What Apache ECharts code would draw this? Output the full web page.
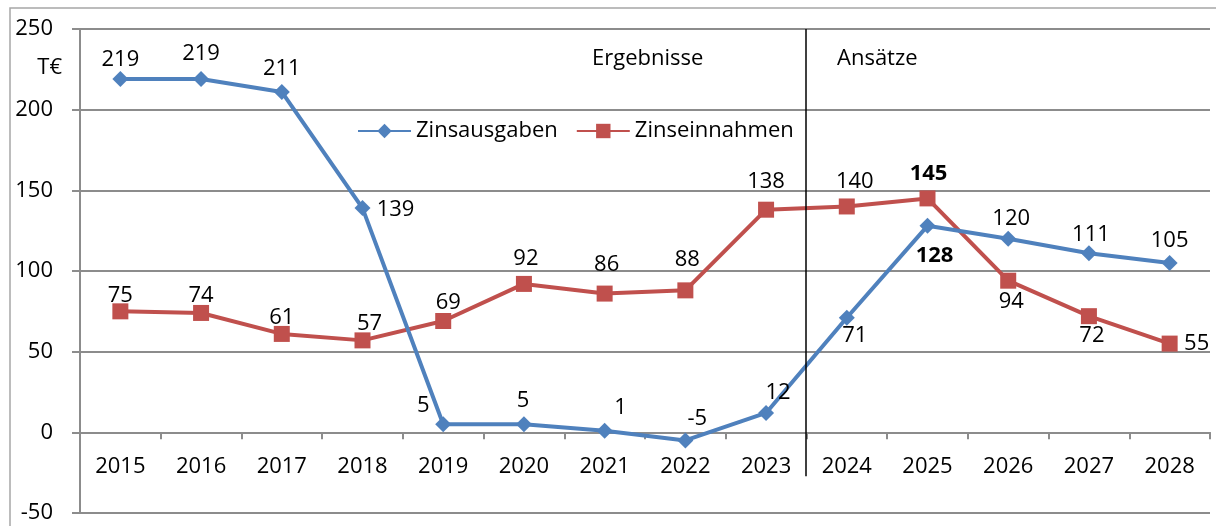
<!DOCTYPE html>
<html>
<head>
<meta charset="utf-8">
<script src="https://cdn.jsdelivr.net/npm/echarts@6/dist/echarts.min.js"></script>
<style>
html,body{margin:0;padding:0;background:#fff;}
#chart{width:1216px;height:526px;}
</style>
</head>
<body>
<div id="chart"></div>
<script>
// ---- data ----
const years = ['2015','2016','2017','2018','2019','2020','2021','2022','2023','2024','2025','2026','2027','2028'];
const zinsausgaben = [219,219,211,139,5,5,1,-5,12,71,128,120,111,105];
const zinseinnahmen = [75,74,61,57,69,92,86,88,138,140,145,94,72,55];
const yTicks = [-50,0,50,100,150,200,250];
const seriesNames = ['Zinsausgaben','Zinseinnahmen'];
const unitLabel = 'T€';
const periodLabels = ['Ergebnisse','Ansätze'];

// ---- label placement (offset of label centre from marker centre, px) ----
const blueLabelOffsets = [[0,-19],[0,-25],[0,-23],[33,2],[-20,-19],[-1,-24],[16,-23],[12,-22],[12,-20],[8,18],[7,30],[3,-20],[2,-19],[0,-22]];
const redLabelOffsets  = [[0,-16],[0,-17],[0,-16],[7,-17],[5,-18],[2,-25],[2,-29],[2,-31],[0,-28],[8,-25],[1,-25],[3,21],[3,20],[27,0]];
const blueBold = [false,false,false,false,false,false,false,false,false,false,true,false,false,false];
const redBold  = [false,false,false,false,false,false,false,false,false,false,true,false,false,false];

const FONT = '"Open Sans", Lato, sans-serif';
const BLUE = '#4F81BD';
const RED = '#C0504D';
const GRID = '#8c8c8c';

function buildData(values, offsets, bold) {
  return values.map((v, i) => ({
    value: v,
    label: {
      position: 'inside',
      offset: offsets[i],
      fontWeight: bold[i] ? 'bold' : 'normal'
    }
  }));
}

const chart = echarts.init(document.getElementById('chart'), null, {renderer: 'canvas'});

const labelBase = {
  show: true,
  color: '#000',
  fontFamily: FONT,
  fontSize: 22,
  align: 'center',
  verticalAlign: 'middle'
};

chart.setOption({
  animation: false,
  backgroundColor: '#fff',
  textStyle: {fontFamily: FONT},
  grid: {left: 80, right: 6, top: 29, bottom: 13, containLabel: false, outerBoundsMode: 'none'},
  legend: {
    data: seriesNames,
    left: 352,
    top: 115,
    itemWidth: 53,
    itemHeight: 18,
    itemGap: 18,
    textStyle: {fontFamily: FONT, fontSize: 22, color: '#000'}
  },
  xAxis: {
    type: 'category',
    data: years,
    boundaryGap: true,
    position: 'bottom',
    offset: 0,
    axisLine: {show: true, onZero: false, lineStyle: {color: GRID, width: 2}},
    axisTick: {show: true, length: 7, inside: false, lineStyle: {color: GRID, width: 2}},
    axisLabel: {color: '#000', fontFamily: FONT, fontSize: 22, margin: 23, interval: 0},
    splitLine: {show: false}
  },
  yAxis: {
    type: 'value',
    min: yTicks[0],
    max: yTicks[yTicks.length - 1],
    interval: yTicks[1] - yTicks[0],
    axisLine: {show: true, lineStyle: {color: GRID, width: 2}},
    axisTick: {show: true, length: 8, lineStyle: {color: GRID, width: 2}},
    axisLabel: {color: '#000', fontFamily: FONT, fontSize: 22, margin: 27},
    splitLine: {show: true, lineStyle: {color: GRID, width: 2}}
  },
  series: [
    {
      name: seriesNames[0],
      type: 'line',
      data: buildData(zinsausgaben, blueLabelOffsets, blueBold),
      symbol: 'diamond',
      symbolSize: 16,
      lineStyle: {color: BLUE, width: 4},
      itemStyle: {color: BLUE},
      label: labelBase,
      z: 3
    },
    {
      name: seriesNames[1],
      type: 'line',
      data: buildData(zinseinnahmen, redLabelOffsets, redBold),
      symbol: 'rect',
      symbolSize: 16,
      lineStyle: {color: RED, width: 4},
      itemStyle: {color: RED},
      label: labelBase,
      z: 2
    }
  ]
});

// ---- move category axis onto the zero line ----
const yMinPx = chart.convertToPixel({yAxisIndex: 0}, yTicks[0]);
const yZero = chart.convertToPixel({yAxisIndex: 0}, 0);
chart.setOption({xAxis: {offset: -(yMinPx - yZero)}});

// ---- annotations: divider between results and estimates ----
const xA = chart.convertToPixel({xAxisIndex: 0}, years[8]);
const xB = chart.convertToPixel({xAxisIndex: 0}, years[9]);
const xDiv = Math.round((xA + xB) / 2);
const yTop = chart.convertToPixel({yAxisIndex: 0}, yTicks[yTicks.length - 1]);

chart.setOption({
  graphic: [
    {
      type: 'rect', silent: true, z: -1,
      shape: {x: 10, y: 8, width: 1230, height: 540},
      style: {fill: 'none', stroke: '#a6a6a6', lineWidth: 1.5}
    },
    {
      type: 'line', silent: true, z: 10,
      shape: {x1: xDiv, y1: yTop, x2: xDiv, y2: yZero + 44},
      style: {stroke: '#000', lineWidth: 1.5}
    },
    {
      type: 'text', silent: true,
      x: 62, y: 68,
      style: {text: unitLabel, fontFamily: FONT, fontSize: 22, fill: '#000', align: 'right', verticalAlign: 'middle'}
    },
    {
      type: 'text', silent: true,
      x: 592, y: 59,
      style: {text: periodLabels[0], fontFamily: FONT, fontSize: 22, fill: '#000', align: 'left', verticalAlign: 'middle'}
    },
    {
      type: 'text', silent: true,
      x: 837, y: 59,
      style: {text: periodLabels[1], fontFamily: FONT, fontSize: 22, fill: '#000', align: 'left', verticalAlign: 'middle'}
    }
  ]
});
</script>
</body>
</html>
